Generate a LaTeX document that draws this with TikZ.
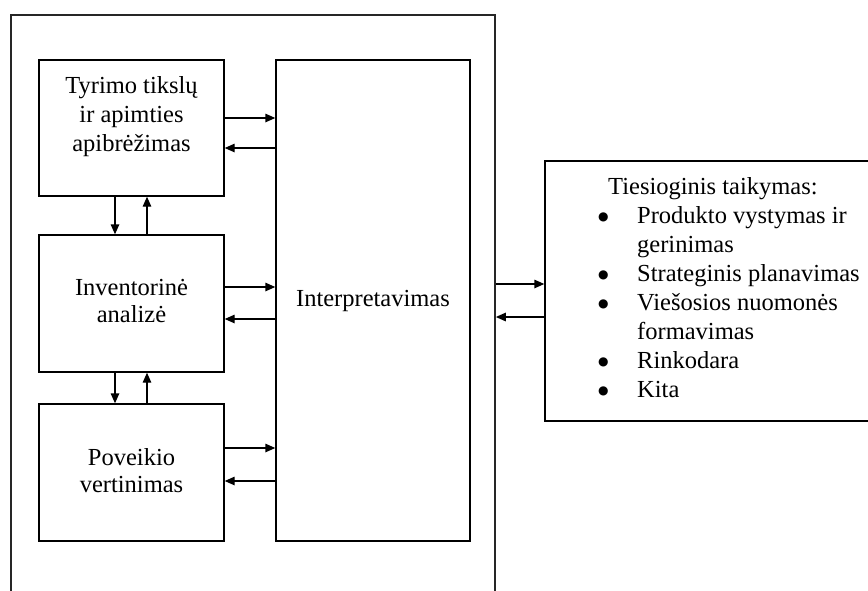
\documentclass[tikz,border=0pt]{standalone}
\usepackage{fontspec}
\setmainfont{Liberation Serif}
\newfontfamily\symfont{DejaVu Sans}
\usetikzlibrary{arrows.meta}

\newcommand\bul{\makebox[38pt][l]{\hspace{-1pt}\raisebox{3.5pt}{\symfont\fontsize{12}{12}\selectfont ●}}}

\begin{document}
\begin{tikzpicture}[x=1pt, y=-1pt,
  box/.style={draw, line width=1.4pt, inner sep=0, minimum width=185, minimum height=136},
  txt/.style={align=center, inner sep=0, font=\fontsize{24.5}{29}\selectfont},
  arr/.style={line width=1.4pt, -{Triangle[length=10pt,width=8.5pt]}}
]

\useasboundingbox (0,0) rectangle (868,590);
\clip (0,0) rectangle (868,590);

\node[draw, line width=1.7pt, black!85, minimum width=484, minimum height=590] (frame) at (253,310) {};

\node[box] (goal) at (131.5,128) {};
\node[box, minimum height=137] (inv) at (131.5,303.5) {};
\node[box, minimum height=137] (impact) at (131.5,472.5) {};
\node[box, minimum width=194, minimum height=481] (interp) at (373,300.5) {};
\node[box, minimum width=335, minimum height=260] (use) at (712.5,291) {};

\node[txt] (goaltxt) at (131.5,117) {Tyrimo tikslų\\ir apimties\\apibrėžimas};
\node[txt, font=\fontsize{24.5}{27}\selectfont] (invtxt) at (131.5,301) {Inventorinė\\analizė};
\node[txt, font=\fontsize{24.5}{27}\selectfont] (impacttxt) at (131.5,471) {Poveikio\\vertinimas};
\node[txt] (interptxt) at (interp.center) {Interpretavimas};
\node[txt, anchor=north west] (usetxt) at (599,174) {%
  \begin{tabular}{@{}l@{}l@{}}
    \multicolumn{2}{@{\hspace{9pt}}l@{}}{Tiesioginis taikymas:}\\
    \bul & Produkto vystymas ir\\
     & gerinimas\\
    \bul & Strateginis planavimas\\
    \bul & Viešosios nuomonės\\
     & formavimas\\
    \bul & Rinkodara\\
    \bul & Kita
  \end{tabular}};

% stages <-> interpretation
\draw[arr] (goal.east |- 0,118) -- (interp.west |- 0,118);
\draw[arr] (interp.west |- 0,148) -- (goal.east |- 0,148);
\draw[arr] (inv.east |- 0,287) -- (interp.west |- 0,287);
\draw[arr] (interp.west |- 0,319) -- (inv.east |- 0,319);
\draw[arr] (impact.east |- 0,448) -- (interp.west |- 0,448);
\draw[arr] (interp.west |- 0,481) -- (impact.east |- 0,481);

% between stages
\draw[arr] (goal.south -| 115,0) -- (inv.north -| 115,0);
\draw[arr] (inv.north -| 147,0) -- (goal.south -| 147,0);
\draw[arr] (inv.south -| 115,0) -- (impact.north -| 115,0);
\draw[arr] (impact.north -| 147,0) -- (inv.south -| 147,0);

% frame <-> applications
\draw[arr] (frame.east |- 0,284) -- (use.west |- 0,284);
\draw[arr] (use.west |- 0,317) -- (frame.east |- 0,317);

\end{tikzpicture}
\end{document}
